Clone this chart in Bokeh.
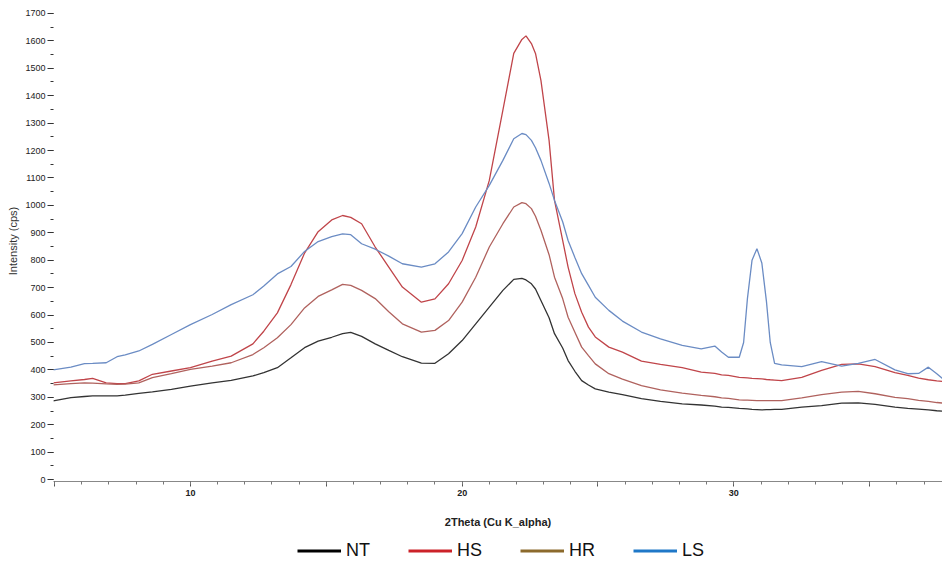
from bokeh.plotting import figure
from bokeh.layouts import column
from bokeh.models import Range1d, SingleIntervalTicker, Legend, LegendItem, ColumnDataSource
from bokeh.embed import file_html
from bokeh.resources import INLINE

# ---- data ----
two_theta = [4.95, 5.6, 6.1, 6.4, 6.9, 7.3, 7.6, 8.1, 8.6, 9.3, 10.0, 10.8, 11.5, 12.3, 12.7, 13.2,
             13.7, 14.2, 14.7, 15.2, 15.6, 15.9, 16.3, 16.8, 17.3, 17.8, 18.5, 19.0, 19.5, 20.0,
             20.5, 21.0, 21.5, 21.9, 22.2, 22.35, 22.55, 22.7, 22.9, 23.2, 23.4, 23.7, 23.9,
             24.15, 24.4, 24.65, 24.9, 25.4, 25.9, 26.6, 27.3, 28.1, 28.8, 29.3, 29.55, 29.8,
             30.2, 30.36, 30.5, 30.67, 30.85, 31.03, 31.2, 31.34, 31.5, 31.76, 32.5, 33.23, 33.97,
             34.58, 35.2, 35.93, 36.4, 36.8, 37.16, 37.47, 37.7]

nt = [287, 299, 303, 305, 305, 305, 308, 314, 320, 329, 341, 353, 362, 378, 390, 408,
      444, 481, 505, 519, 532, 537, 522, 495, 471, 448, 425, 424, 459, 507,
      568, 629, 690, 730, 734, 728, 714, 695, 653, 590, 532, 480, 434,
      395, 361, 345, 331, 319, 310, 295, 285, 276, 272, 268, 264, 263,
      260, 259, 258, 256, 255, 254, 255, 255, 256, 256, 264, 270, 279,
      280, 274, 264, 260, 257, 254, 251, 249]

hs = [353, 360, 365, 369, 353, 350, 350, 360, 384, 396, 408, 432, 450, 495, 541, 608,
      711, 826, 904, 947, 963, 956, 933, 848, 775, 702, 647, 659, 714, 799,
      921, 1091, 1347, 1554, 1605, 1618, 1590, 1554, 1456, 1237, 1018, 872, 775,
      678, 610, 556, 520, 483, 465, 432, 420, 408, 392, 387, 382, 380,
      373, 372, 371, 369, 368, 367, 365, 364, 363, 361, 373, 398, 420,
      422, 412, 390, 380, 370, 364, 360, 358]

hr = [345, 350, 353, 352, 349, 347, 348, 353, 372, 386, 402, 414, 426, 456, 481, 517,
      565, 626, 668, 692, 712, 708, 690, 660, 612, 568, 538, 544, 580, 647,
      738, 848, 933, 994, 1010, 1006, 988, 960, 909, 820, 738, 660, 592,
      537, 483, 452, 422, 386, 366, 343, 327, 315, 307, 302, 298, 296,
      291, 290, 290, 289, 288, 288, 288, 288, 288, 288, 298, 310, 319,
      322, 313, 300, 295, 289, 285, 281, 279]

ls = [400, 410, 423, 424, 426, 448, 455, 469, 493, 529, 565, 602, 638, 674, 706, 750,
      777, 832, 868, 886, 896, 893, 860, 840, 815, 787, 775, 787, 830, 897,
      994, 1073, 1164, 1243, 1262, 1258, 1237, 1210, 1164, 1080, 1018, 940, 872,
      810, 751, 708, 665, 617, 578, 538, 513, 489, 477, 487, 465, 446,
      446, 500, 660, 800, 842, 790, 650, 500, 424, 418, 412, 430, 414,
      424, 438, 400, 386, 387, 410, 386, 367]

series_names = ["NT", "HS", "HR", "LS"]
line_colors = ["#333333", "#c0454a", "#b0625e", "#6b8cc4"]
legend_colors = ["#000000", "#cc2229", "#8c6a2c", "#1f78c8"]

FONT = "Liberation Sans"

p = figure(width=942, height=530, output_backend="svg", toolbar_location=None,
           x_range=Range1d(4.96, 37.68), y_range=Range1d(-7, 1747),
           min_border_left=53, min_border_right=0, min_border_top=0, min_border_bottom=49)
p.outline_line_color = None
p.grid.visible = False
p.background_fill_color = "white"

src = ColumnDataSource(dict(x=two_theta, NT=nt, HS=hs, HR=hr, LS=ls))
for name, col in zip(series_names, line_colors):
    p.line("x", name, source=src, line_color=col, line_width=1.3)

# ---- y axis ----
ya = p.yaxis[0]
ya.ticker = SingleIntervalTicker(interval=100, num_minor_ticks=2)
ya.axis_line_color = None
ya.major_tick_in = 0
ya.major_tick_out = 6
ya.minor_tick_in = 0
ya.minor_tick_out = 3
ya.major_tick_line_color = "#333333"
ya.minor_tick_line_color = "#333333"
ya.major_label_standoff = 2
ya.major_label_text_font = FONT
ya.major_label_text_font_size = "9px"
ya.major_label_text_color = "#222222"
ya.axis_label = "Intensity (cps)"
ya.axis_label_text_font = FONT
ya.axis_label_text_font_size = "11px"
ya.axis_label_text_font_style = "normal"
ya.axis_label_text_color = "#333333"
ya.axis_label_standoff = 3

# ---- x axis ----
xa = p.xaxis[0]
xa.ticker = SingleIntervalTicker(interval=5, num_minor_ticks=5)
xa.major_label_overrides = {5: "", 15: "", 25: "", 35: ""}
xa.axis_line_color = "#888888"
xa.major_tick_in = 0
xa.major_tick_out = 5
xa.minor_tick_in = 0
xa.minor_tick_out = 3
xa.major_tick_line_color = "#555555"
xa.minor_tick_line_color = "#777777"
xa.major_label_standoff = 3
xa.major_label_text_font = FONT
xa.major_label_text_font_size = "9px"
xa.major_label_text_font_style = "bold"
xa.major_label_text_color = "#222222"
xa.axis_label = "2Theta (Cu K_alpha)"
xa.axis_label_text_font = FONT
xa.axis_label_text_font_size = "11px"
xa.axis_label_text_font_style = "bold"
xa.axis_label_text_color = "#222222"
xa.axis_label_standoff = 17

# ---- legend strip below the chart ----
lg = figure(width=934, height=33, output_backend="svg", toolbar_location=None,
            x_range=Range1d(0, 1), y_range=Range1d(0, 1),
            x_axis_location=None, y_axis_location=None,
            min_border=0, min_border_left=0, min_border_right=0,
            min_border_top=0, min_border_bottom=0)
lg.outline_line_color = None
lg.grid.visible = False
items = []
for name, col in zip(series_names, legend_colors):
    r = lg.line(x=[float("nan")], y=[float("nan")], line_color=col, line_width=3)
    items.append(LegendItem(label=name, renderers=[r]))
legend = Legend(items=items, location=(244, 2), orientation="horizontal",
                padding=0, margin=0, spacing=38,
                border_line_color=None, background_fill_alpha=0,
                glyph_width=44, glyph_height=17, label_standoff=5,
                label_text_font=FONT, label_text_font_size="18px",
                label_text_color="#111111")
lg.add_layout(legend, "center")

open("out.html", "w").write(file_html(column(p, lg), INLINE))
